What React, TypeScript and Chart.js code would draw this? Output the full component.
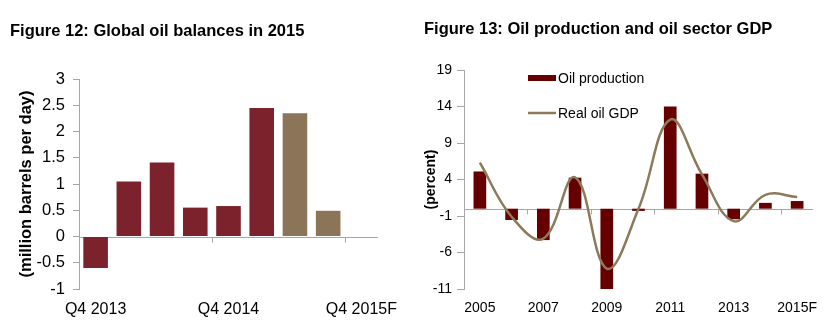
import React, { useEffect, useRef } from "react";
import { Chart, registerables } from "chart.js";

Chart.register(...registerables);

const FONT = '"Liberation Sans", Arial, Helvetica, sans-serif';

// ---- Figure 12 data ----
const balanceQuarters = ["Q4 2013", "Q1 2014", "Q2 2014", "Q3 2014", "Q4 2014", "Q1 2015", "Q2 2015F", "Q3 2015F", "Q4 2015F"];
const balanceValues = [-0.6, 1.05, 1.41, 0.55, 0.58, 2.45, 2.35, 0.49, 0.01];
const balanceForecastFrom = 6;
const balanceYTicks = [-1, -0.5, 0, 0.5, 1, 1.5, 2, 2.5, 3];

// ---- Figure 13 data ----
const years = ["2005", "2006", "2007", "2008", "2009", "2010", "2011", "2012", "2013", "2014", "2015F"];
const oilProduction = [5.1, -1.55, -4.3, 4.25, -11.0, -0.3, 14.0, 4.8, -1.45, 0.8, 1.05];
const realOilGdp = [6.3, -1.1, -4.1, 4.3, -8.2, 0.0, 12.2, 4.7, -1.7, 1.9, 1.6];
const gdpYTicks = [-11, -6, -1, 4, 9, 14, 19];

const AXIS_GREY = "#a6a6a6";

const zeroAxisPlugin = {
  id: "zeroAxis",
  beforeDatasetsDraw(chart: any, _args: any, opts: any) {
    const { ctx, chartArea, scales } = chart;
    const xs = scales.x;
    const ys = scales.y;
    const y0 = Math.round(ys.getPixelForValue(0)) + 0.5;
    ctx.save();
    ctx.strokeStyle = opts.color;
    ctx.lineWidth = 1;
    ctx.beginPath();
    ctx.moveTo(chartArea.left, y0);
    ctx.lineTo(chartArea.right, y0);
    const n = chart.data.labels.length;
    for (let i = opts.every; i < n; i += opts.every) {
      const bx = Math.round((xs.getPixelForValue(i - 1) + xs.getPixelForValue(i)) / 2) + 0.5;
      ctx.moveTo(bx, y0);
      ctx.lineTo(bx, y0 + opts.length);
    }
    ctx.stroke();
    ctx.restore();
  },
};

const insideLegendPlugin = {
  id: "insideLegend",
  afterDraw(chart: any, _args: any, opts: any) {
    const { ctx, chartArea } = chart;
    const x0 = chartArea.left + opts.x;
    ctx.save();
    ctx.font = `${opts.fontSize}px ${FONT}`;
    ctx.textBaseline = "middle";
    ctx.textAlign = "left";
    chart.data.datasets.forEach((ds: any, i: number) => {
      const yc = chartArea.top + opts.y + i * opts.rowGap;
      if (ds.type === "line") {
        ctx.strokeStyle = ds.borderColor;
        ctx.lineWidth = ds.borderWidth;
        ctx.beginPath();
        ctx.moveTo(x0, yc);
        ctx.lineTo(x0 + opts.swatch, yc);
        ctx.stroke();
      } else {
        ctx.fillStyle = ds.backgroundColor;
        ctx.fillRect(x0, yc - 3, opts.swatch, 6);
      }
      ctx.fillStyle = "#000";
      ctx.fillText(ds.label, x0 + opts.swatch + 2, yc + 1);
    });
    ctx.restore();
  },
};

function BalancesChart() {
  const ref = useRef<HTMLCanvasElement>(null);
  useEffect(() => {
    const chart = new Chart(ref.current as HTMLCanvasElement, {
      type: "bar",
      data: {
        labels: balanceQuarters,
        datasets: [
          {
            label: "Global oil balance",
            data: balanceValues,
            backgroundColor: balanceValues.map((_, i) => (i >= balanceForecastFrom ? "#8b7558" : "#7b222c")),
            barPercentage: 0.74,
            categoryPercentage: 1,
          },
        ],
      },
      options: {
        responsive: false,
        animation: false,
        devicePixelRatio: 1,
        layout: { padding: { left: 0, top: 79, right: 37, bottom: 0 } },
        plugins: {
          legend: { display: false },
          tooltip: { enabled: false },
          zeroAxis: { color: AXIS_GREY, every: 4, length: 5 },
        } as any,
        scales: {
          x: {
            grid: { display: false, drawTicks: false },
            border: { display: false },
            afterFit: (s: any) => {
              s.height = 47;
            },
            ticks: {
              autoSkip: false,
              maxRotation: 0,
              padding: 11,
              color: "#000",
              font: { family: FONT, size: 16 },
              callback: (_v: any, i: number) => (i % 4 === 0 ? balanceQuarters[i] : ""),
            },
          },
          y: {
            min: -1,
            max: 3,
            afterBuildTicks: (s: any) => {
              s.ticks = balanceYTicks.map((v) => ({ value: v }));
            },
            afterFit: (s: any) => {
              s.width = 79;
            },
            grid: { drawOnChartArea: false, drawTicks: true, tickLength: 6, color: AXIS_GREY },
            border: { display: true, color: AXIS_GREY, width: 1 },
            ticks: {
              padding: 8,
              color: "#000",
              font: { family: FONT, size: 16.5 },
              callback: (v: any) => String(v),
            },
            title: {
              display: true,
              text: "(million barrels per day)",
              color: "#000",
              font: { family: FONT, size: 16.5, weight: "bold" },
              padding: { top: 17, bottom: 0 },
            },
          },
        },
      },
      plugins: [zeroAxisPlugin],
    });
    return () => chart.destroy();
  }, []);
  return <canvas ref={ref} width={415} height={336} />;
}

function OilGdpChart() {
  const ref = useRef<HTMLCanvasElement>(null);
  useEffect(() => {
    const chart = new Chart(ref.current as HTMLCanvasElement, {
      type: "bar",
      data: {
        labels: years,
        datasets: [
          {
            type: "bar",
            label: "Oil production",
            data: oilProduction,
            backgroundColor: "#660000",
            barPercentage: 0.4,
            categoryPercentage: 1,
            order: 2,
          },
          {
            type: "line",
            label: "Real oil GDP",
            data: realOilGdp,
            borderColor: "#8c7a5b",
            backgroundColor: "#8c7a5b",
            borderWidth: 2.5,
            pointRadius: 0,
            tension: 0.4,
            fill: false,
            order: 1,
          } as any,
        ],
      },
      options: {
        responsive: false,
        animation: false,
        devicePixelRatio: 1,
        layout: { padding: { left: 0, top: 70, right: 17, bottom: 0 } },
        plugins: {
          legend: { display: false },
          tooltip: { enabled: false },
          zeroAxis: { color: AXIS_GREY, every: 2, length: 5 },
          insideLegend: { x: 64, y: 8, rowGap: 35, swatch: 28, fontSize: 14 },
        } as any,
        scales: {
          x: {
            grid: { display: false, drawTicks: false },
            border: { display: false },
            afterFit: (s: any) => {
              s.height = 47;
            },
            ticks: {
              autoSkip: false,
              maxRotation: 0,
              padding: 11,
              color: "#000",
              font: { family: FONT, size: 14 },
              callback: (_v: any, i: number) => (i % 2 === 0 ? years[i] : ""),
            },
          },
          y: {
            min: -11,
            max: 19,
            afterBuildTicks: (s: any) => {
              s.ticks = gdpYTicks.map((v) => ({ value: v }));
            },
            afterFit: (s: any) => {
              s.width = 49;
            },
            grid: { drawOnChartArea: false, drawTicks: true, tickLength: 7, color: AXIS_GREY },
            border: { display: true, color: AXIS_GREY, width: 1 },
            ticks: {
              padding: 5,
              color: "#000",
              font: { family: FONT, size: 14 },
              callback: (v: any) => String(v),
            },
            title: {
              display: true,
              text: "(percent)",
              color: "#000",
              font: { family: FONT, size: 14, weight: "bold" },
              padding: { top: 8, bottom: 0 },
            },
          },
        },
      },
      plugins: [zeroAxisPlugin, insideLegendPlugin],
    });
    return () => chart.destroy();
  }, []);
  return <canvas ref={ref} width={415} height={336} />;
}

const titleStyle: React.CSSProperties = {
  position: "absolute",
  fontFamily: FONT,
  fontWeight: "bold",
  fontSize: 16.5,
  lineHeight: "20px",
  color: "#000",
  whiteSpace: "nowrap",
};

export default function App() {
  return (
    <div style={{ position: "absolute", left: 0, top: 0, width: 830, height: 336, background: "#fff", overflow: "hidden" }}>
      <div style={{ position: "absolute", left: 0, top: 0, width: 415, height: 336 }}>
        <BalancesChart />
      </div>
      <div style={{ position: "absolute", left: 415, top: 0, width: 415, height: 336 }}>
        <OilGdpChart />
      </div>
      <div style={{ ...titleStyle, left: 10, top: 20 }}>Figure 12: Global oil balances in 2015</div>
      <div style={{ ...titleStyle, left: 424, top: 18 }}>Figure 13: Oil production and oil sector GDP</div>
    </div>
  );
}
